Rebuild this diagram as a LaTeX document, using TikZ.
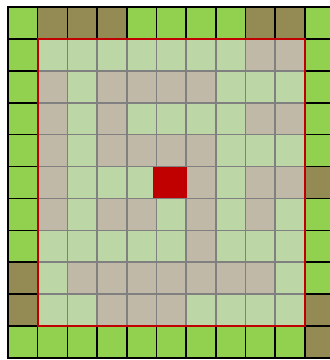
\documentclass[tikz,border=0pt]{standalone}
\definecolor{colG}{HTML}{92D050}
\definecolor{colO}{HTML}{948A54}
\definecolor{colL}{HTML}{BDD6A5}
\definecolor{colT}{HTML}{C0B9A8}
\definecolor{colR}{HTML}{C00000}
\definecolor{colGrid}{HTML}{808080}
\begin{document}
\begin{tikzpicture}[x=1pt,y=1pt,
  gridline/.style={draw=colGrid,line width=1.6pt},
  outerline/.style={draw=black,line width=1.6pt},
  redline/.style={draw=colR,line width=2pt}]
\useasboundingbox (0,0) rectangle (330,360);
\clip (0,0) rectangle (330,360);
\def\cw{29.7}
\def\ch{31.9}
\def\xo{8}
\def\yo{353}
\foreach \row [count=\r from 0] in {
 {G,O,O,O,G,G,G,G,O,O,G},
 {G,L,L,L,L,L,L,L,T,T,G},
 {G,T,L,T,T,T,T,L,L,L,G},
 {G,T,L,T,L,L,L,L,T,T,G},
 {G,T,L,T,T,T,T,L,L,L,G},
 {G,T,L,L,L,T,T,L,T,T,O},
 {G,T,L,T,T,L,T,L,T,L,G},
 {G,L,L,L,L,L,T,L,L,L,G},
 {O,L,T,T,T,T,T,T,T,L,G},
 {O,L,L,T,T,T,L,L,L,L,O},
 {G,G,G,G,G,G,G,G,G,G,O}} {
  \foreach \c [count=\k from 0] in \row {
    \fill[col\c] ({\xo+\k*\cw},{\yo-\r*\ch}) rectangle ++(\cw,-\ch);
  }
}
% interior grey grid
\foreach \i in {2,...,9} {
  \draw[gridline] ({\xo+\i*\cw},{\yo-\ch}) -- ({\xo+\i*\cw},{\yo-10*\ch});
  \draw[gridline] ({\xo+\cw},{\yo-\i*\ch}) -- ({\xo+10*\cw},{\yo-\i*\ch});
}
% border cells black outlines
\foreach \i in {0,...,10} {
  \draw[outerline] ({\xo+\i*\cw},{\yo}) rectangle ++(\cw,-\ch);
  \draw[outerline] ({\xo+\i*\cw},{\yo-10*\ch}) rectangle ++(\cw,-\ch);
  \draw[outerline] ({\xo},{\yo-\i*\ch}) rectangle ++(\cw,-\ch);
  \draw[outerline] ({\xo+10*\cw},{\yo-\i*\ch}) rectangle ++(\cw,-\ch);
}
% red cell
\fill[colR] ({\xo+5*\cw-3.5},{\yo-5*\ch-0.8}) rectangle ({\xo+6*\cw+0.8},{\yo-6*\ch+0.2});
% red border
\draw[redline] ({\xo+\cw},{\yo-\ch}) rectangle ({\xo+10*\cw},{\yo-10*\ch});
\end{tikzpicture}
\end{document}
